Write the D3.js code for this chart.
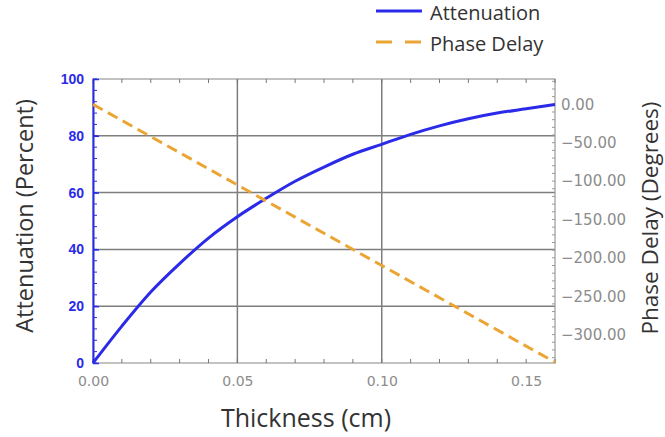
<!DOCTYPE html>
<html>
<head>
<meta charset="utf-8">
<script src="https://cdn.jsdelivr.net/npm/d3@7"></script>
<style>
  body { margin: 0; background: #fff; }
  text { font-family: "DejaVu Sans", sans-serif; }
  .title { font-family: "Open Sans", "Noto Sans", sans-serif; fill: #333; }
</style>
</head>
<body>
<svg id="chart" width="665" height="437"></svg>
<script>
// thickness (cm) and values
var thickness = [0, 0.01, 0.02, 0.03, 0.04, 0.05, 0.06, 0.07, 0.08, 0.09, 0.10, 0.11, 0.12, 0.13, 0.14, 0.15, 0.16];
var attenuation = [0, 13, 25, 35, 44, 51.5, 58, 64, 69, 73.5, 77, 80.5, 83.5, 86, 88, 89.5, 91];
var phaseX = [0, 0.05, 0.10, 0.16];
var phaseDelay = [0, -105, -210, -336];
var xTicks = [0, 0.05, 0.10, 0.15];
var leftTicks = [0, 20, 40, 60, 80, 100];
var rightTicks = [0, -50, -100, -150, -200, -250, -300];

var margin = {top: 79, left: 93, right: 110, bottom: 74},
    width = 665, height = 437,
    w = width - margin.left - margin.right,
    h = height - margin.top - margin.bottom;

var blue = "#2a2ae8", orange = "#eba535", grey = "#8c8c8c";

var svg = d3.select("#chart");
var g = svg.append("g")
    .attr("transform", "translate(" + margin.left + "," + margin.top + ")");

var x = d3.scaleLinear().domain([0, 0.16]).range([0, w]);
var yL = d3.scaleLinear().domain([0, 100]).range([h, 0]);
var yR = d3.scaleLinear().domain([-337, 33]).range([h, 0]);

// grid
g.selectAll("line.hgrid").data(leftTicks.slice(1, -1)).enter()
  .append("line").attr("class", "hgrid")
  .attr("x1", 0).attr("x2", w)
  .attr("y1", d => yL(d)).attr("y2", d => yL(d))
  .style("stroke", "#7e7e7e").style("stroke-width", 1.5);
g.selectAll("line.vgrid").data([0.05, 0.10]).enter()
  .append("line").attr("class", "vgrid")
  .attr("y1", 0).attr("y2", h)
  .attr("x1", d => x(d)).attr("x2", d => x(d))
  .style("stroke", "#7e7e7e").style("stroke-width", 1.5);

// frame
g.append("rect").attr("width", w).attr("height", h)
  .style("fill", "none").style("stroke", "#999").style("stroke-width", 1.2);

// minor ticks
var minorX = d3.range(0, 0.161, 0.01);
g.selectAll("line.mxb").data(minorX).enter().append("line")
  .attr("x1", d => x(d)).attr("x2", d => x(d))
  .attr("y1", h).attr("y2", h - 4).style("stroke", "#777");
g.selectAll("line.mxt").data(minorX).enter().append("line")
  .attr("x1", d => x(d)).attr("x2", d => x(d))
  .attr("y1", 0).attr("y2", 4).style("stroke", "#777");
g.selectAll("line.myl").data(d3.range(0, 101, 4)).enter().append("line")
  .attr("x1", 0).attr("x2", 4)
  .attr("y1", d => yL(d)).attr("y2", d => yL(d)).style("stroke", blue);
g.selectAll("line.myr").data(d3.range(-330, 31, 10)).enter().append("line")
  .attr("x1", w).attr("x2", w - 3)
  .attr("y1", d => yR(d)).attr("y2", d => yR(d)).style("stroke", "#999");

// axes
var xAxis = g.append("g").attr("transform", "translate(0," + h + ")")
  .call(d3.axisBottom(x).tickValues(xTicks).tickFormat(d3.format(".2f")).tickSize(0).tickPadding(13));
xAxis.select(".domain").remove();
xAxis.selectAll("text").style("fill", grey).style("font-size", "14px")
  .style("font-family", "DejaVu Sans");

var lAxis = g.append("g")
  .call(d3.axisLeft(yL).tickValues(leftTicks).tickSizeInner(-6).tickSizeOuter(0).tickPadding(9));
lAxis.select(".domain").style("stroke", blue).style("stroke-width", 2);
lAxis.selectAll(".tick line").style("stroke", blue).style("stroke-width", 1.5);
lAxis.selectAll("text").style("fill", blue).style("font-size", "14px").style("font-weight", "bold")
  .style("font-family", "Liberation Sans");

var rAxis = g.append("g").attr("transform", "translate(" + w + ",0)")
  .call(d3.axisRight(yR).tickValues(rightTicks).tickFormat(d3.format(".2f")).tickSize(0).tickPadding(6));
rAxis.select(".domain").remove();
rAxis.selectAll("text").style("fill", grey).style("font-size", "15px")
  .style("font-family", "DejaVu Sans");

// series
var attLine = d3.line().x((d, i) => x(thickness[i])).y(d => yL(d)).curve(d3.curveMonotoneX);
g.append("path").datum(attenuation).attr("d", attLine)
  .style("fill", "none").style("stroke", blue).style("stroke-width", 3);

var phLine = d3.line().x((d, i) => x(phaseX[i])).y(d => yR(d));
g.append("path").datum(phaseDelay).attr("d", phLine)
  .style("fill", "none").style("stroke", orange).style("stroke-width", 3)
  .style("stroke-dasharray", "11,6");

// titles
svg.append("text").attr("class", "title")
  .attr("x", 306).attr("y", 427).attr("text-anchor", "middle")
  .style("font-size", "25px").text("Thickness (cm)");
svg.append("text").attr("class", "title")
  .attr("transform", "translate(33,216) rotate(-90)")
  .attr("text-anchor", "middle").style("font-size", "23.5px").text("Attenuation (Percent)");
svg.append("text").attr("class", "title")
  .attr("transform", "translate(658,218) rotate(-90)")
  .attr("text-anchor", "middle").style("font-size", "22.5px").text("Phase Delay (Degrees)");

// legend
var legend = svg.append("g").attr("transform", "translate(376,0)");
legend.append("line").attr("x1", 0).attr("x2", 46).attr("y1", 11).attr("y2", 11)
  .style("stroke", blue).style("stroke-width", 3);
legend.append("line").attr("x1", 0).attr("x2", 46).attr("y1", 42).attr("y2", 42)
  .style("stroke", orange).style("stroke-width", 3).style("stroke-dasharray", "16,13");
legend.append("text").attr("class", "title").attr("x", 54).attr("y", 20)
  .style("font-size", "20px").text("Attenuation");
legend.append("text").attr("class", "title").attr("x", 54).attr("y", 51)
  .style("font-size", "20px").text("Phase Delay");
</script>
</body>
</html>
